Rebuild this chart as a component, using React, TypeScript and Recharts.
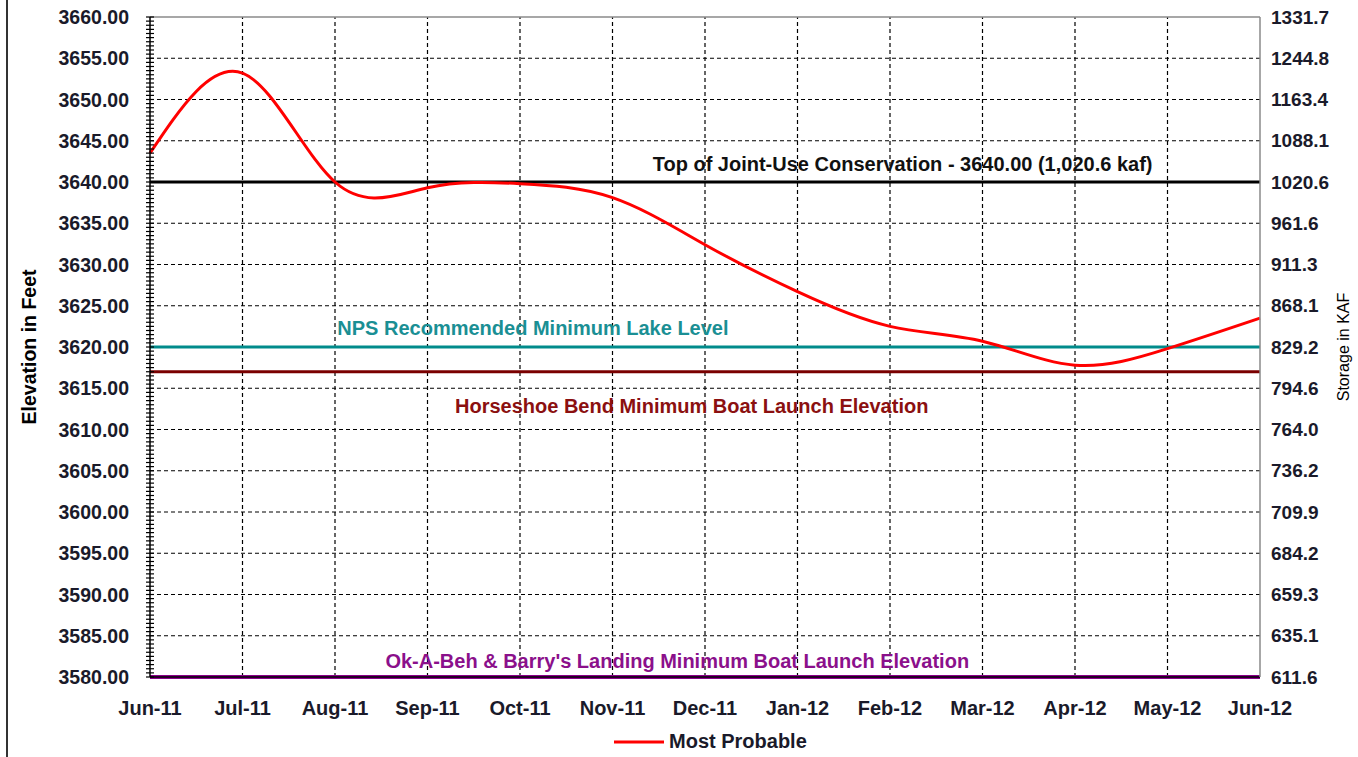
import { LineChart, Line, XAxis, YAxis, ReferenceLine, Legend } from 'recharts';

const months = ['Jun-11', 'Jul-11', 'Aug-11', 'Sep-11', 'Oct-11', 'Nov-11', 'Dec-11', 'Jan-12', 'Feb-12', 'Mar-12', 'Apr-12', 'May-12', 'Jun-12'];

// elevation in feet, most probable run
const mostProbable = [3643.5, 3653.2, 3640.0, 3639.3, 3639.8, 3638.1, 3632.4, 3626.7, 3622.5, 3620.7, 3617.8, 3619.8, 3623.5];

const elevationTicks = [3580, 3585, 3590, 3595, 3600, 3605, 3610, 3615, 3620, 3625, 3630, 3635, 3640, 3645, 3650, 3655, 3660];
const storageLabels = ['611.6', '635.1', '659.3', '684.2', '709.9', '736.2', '764.0', '794.6', '829.2', '868.1', '911.3', '961.6', '1020.6', '1088.1', '1163.4', '1244.8', '1331.7'];

const levelValues = [3640, 3620, 3617, 3580];
const levelLabels = [
  'Top of Joint-Use Conservation - 3640.00 (1,020.6 kaf)',
  'NPS Recommended Minimum Lake Level',
  'Horseshoe Bend Minimum Boat Launch Elevation',
  "Ok-A-Beh & Barry's Landing Minimum Boat Launch Elevation",
];

const LEVEL_STYLE = [
  { line: '#000000', text: '#111111', width: 3, fx: 0.678, dy: -18 },
  { line: '#008B8B', text: '#1a8f94', width: 3, fx: 0.345, dy: -19 },
  { line: '#7a0000', text: '#8b1010', width: 3, fx: 0.488, dy: 34 },
  { line: '#8B008B', text: '#8b108b', width: 4, fx: 0.475, dy: -16 },
];

const FONT = '"Liberation Sans", Arial, sans-serif';
const TEXT = '#1a1a2a';

const data = months.map((m, i) => ({ month: m, probable: mostProbable[i] }));

// half-foot minor ticks on the elevation axis
const minorTicks: number[] = [];
for (let v = 3580; v <= 3660; v += 0.5) minorTicks.push(v);

const ElevTick = (props: any) => {
  const { x, y, payload } = props;
  const major = payload.value % 5 === 0;
  return (
    <g>
      <line x1={x - 4} x2={x + 4} y1={y} y2={y} stroke="#000" strokeWidth={1.2} />
      {major && (
        <text x={x - 21} y={y} textAnchor="end" dominantBaseline="central" fontFamily={FONT} fontWeight="bold" fontSize={19.5} fill={TEXT}>
          {payload.value.toFixed(2)}
        </text>
      )}
    </g>
  );
};

const StorageTick = (props: any) => {
  const { x, y, payload } = props;
  const label = storageLabels[elevationTicks.indexOf(Math.round(payload.value))];
  return (
    <text x={x + 11} y={y} textAnchor="start" dominantBaseline="central" fontFamily={FONT} fontWeight="bold" fontSize={19} fill={TEXT}>
      {label}
    </text>
  );
};

const MonthTick = (props: any) => {
  const { x, y, payload } = props;
  return (
    <text x={x} y={y + 31} textAnchor="middle" dominantBaseline="central" fontFamily={FONT} fontWeight="bold" fontSize={20} fill={TEXT}>
      {payload.value}
    </text>
  );
};

const LevelLabel = (props: any) => {
  const { viewBox, text, color, fx, dy } = props;
  if (!viewBox) return null;
  return (
    <text x={viewBox.x + viewBox.width * fx} y={viewBox.y + dy} textAnchor="middle" dominantBaseline="central" fontFamily={FONT} fontWeight="bold" fontSize={20} fill={color}>
      {text}
    </text>
  );
};

const LegendContent = (props: any) => {
  const item = props.payload && props.payload.find((p: any) => p.value === 'Most Probable');
  if (!item) return null;
  return (
    <div style={{ position: 'relative', height: 50, width: 1358 }}>
      <svg width={50} height={6} style={{ position: 'absolute', left: 614, top: 32 }}>
        <line x1={0} x2={50} y1={3} y2={3} stroke="#ff0000" strokeWidth={3} />
      </svg>
      <span style={{ position: 'absolute', left: 669, top: 23, fontFamily: FONT, fontWeight: 'bold', fontSize: 20, color: TEXT, lineHeight: '22px' }}>
        {item.value}
      </span>
    </div>
  );
};

export default function App() {
  return (
    <div style={{ position: 'absolute', left: 0, top: 0, width: 1358, height: 757, background: '#fff' }}>
      <div style={{ position: 'absolute', left: 6, top: 0, width: 2, height: 757, background: '#333' }} />
      <LineChart width={1358} height={757} data={data} margin={{ top: 17, right: 5, bottom: 0, left: 0 }} style={{ fontFamily: FONT }}>
        <XAxis dataKey="month" height={30} tickSize={0} tickMargin={0} tick={<MonthTick />} interval={0} axisLine={{ stroke: '#000', strokeWidth: 1.5 }} tickLine={false} />
        <YAxis
          yAxisId="left"
          width={150}
          type="number"
          domain={[3580, 3660]}
          allowDataOverflow
          ticks={minorTicks}
          interval={0}
          tickSize={0}
          tickMargin={0}
          tick={<ElevTick />}
          tickLine={false}
          axisLine={{ stroke: '#000', strokeWidth: 1.5 }}
          label={{ value: 'Elevation in Feet', angle: -90, position: 'insideLeft', offset: 29, style: { fontFamily: FONT, fontWeight: 'bold', fontSize: 19.5, fill: '#000', textAnchor: 'middle' } }}
        />
        <YAxis
          yAxisId="right"
          orientation="right"
          width={93}
          type="number"
          domain={[3580, 3660]}
          allowDataOverflow
          ticks={elevationTicks}
          interval={0}
          tickSize={0}
          tickMargin={0}
          tick={<StorageTick />}
          tickLine={false}
          axisLine={{ stroke: '#8a8a8a', strokeWidth: 1.5 }}
          label={{ value: 'Storage in KAF', angle: -90, position: 'insideRight', offset: 10, style: { fontFamily: FONT, fontSize: 16, fill: '#000', textAnchor: 'middle' } }}
        />

        {elevationTicks.slice(1, -1).map((v) => (
          <ReferenceLine key={`h-${v}`} yAxisId="left" y={v} stroke="#000" strokeDasharray="4 3" strokeWidth={1.2} />
        ))}
        {months.slice(1, -1).map((m) => (
          <ReferenceLine key={`v-${m}`} yAxisId="left" x={m} stroke="#000" strokeDasharray="4 3" strokeWidth={1.2} />
        ))}
        <ReferenceLine yAxisId="left" y={3660} stroke="#8a8a8a" strokeWidth={1.5} />

        {levelValues.map((v, i) => (
          <ReferenceLine
            key={`lvl-${v}`}
            yAxisId="left"
            y={v}
            stroke={LEVEL_STYLE[i].line}
            strokeWidth={LEVEL_STYLE[i].width}
            label={<LevelLabel text={levelLabels[i]} color={LEVEL_STYLE[i].text} fx={LEVEL_STYLE[i].fx} dy={LEVEL_STYLE[i].dy} />}
          />
        ))}

        <Line
          yAxisId="left"
          type="natural"
          dataKey="probable"
          name="Most Probable"
          stroke="#ff0000"
          strokeWidth={3}
          dot={false}
          isAnimationActive={false}
        />
        {/* same series on the storage axis so that axis gets its ticks; drawn invisibly */}
        <Line
          yAxisId="right"
          type="natural"
          dataKey="probable"
          name="storage"
          legendType="none"
          stroke="none"
          dot={false}
          activeDot={false}
          isAnimationActive={false}
        />
        <Legend verticalAlign="bottom" content={<LegendContent />} wrapperStyle={{ left: 0, width: 1358, height: 50 }} />
      </LineChart>
    </div>
  );
}
